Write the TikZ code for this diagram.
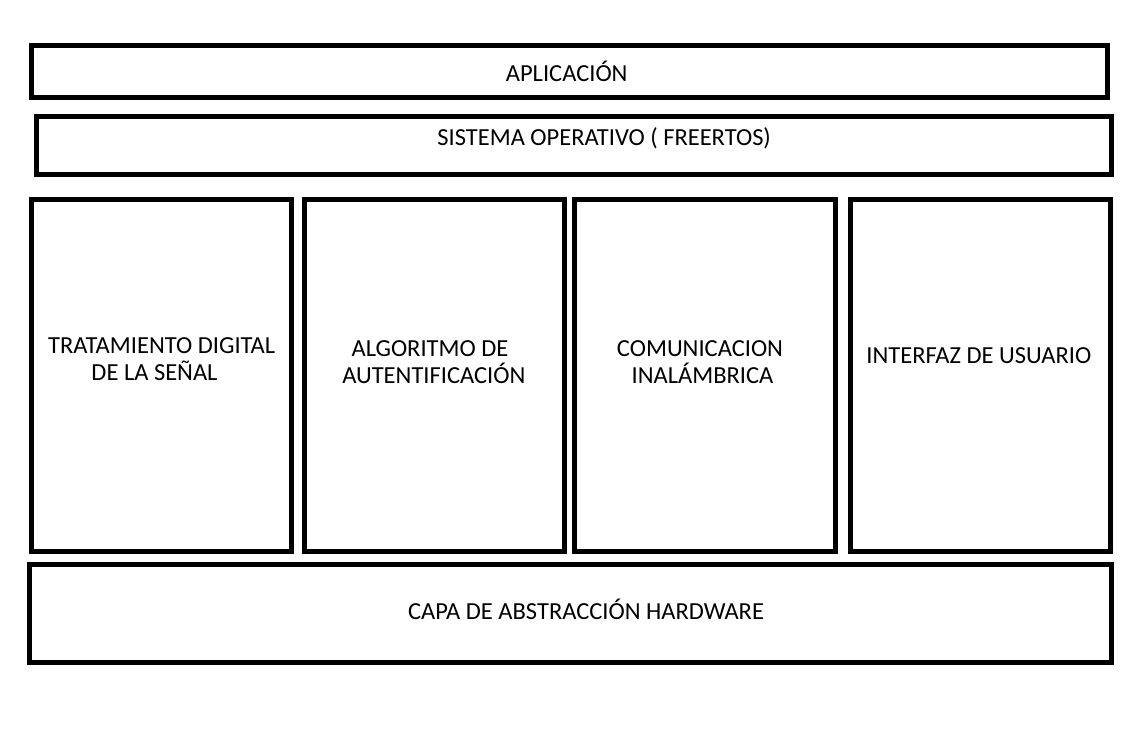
\documentclass[tikz,border=0pt]{standalone}
\usepackage{fontspec}
\setmainfont{Carlito}
\begin{document}
\begin{tikzpicture}[x=1pt,y=-1pt,
  layer/.style={draw=black,line width=5pt,inner sep=0pt,outer sep=0pt,fill=white},
  lbl/.style={font=\fontsize{24.5}{29}\selectfont,inner sep=0pt,anchor=base}]
\useasboundingbox[fill=white] (0,0) rectangle (1139,750);
% boxes (centre-line geometry)
\node[layer,minimum width=1075.8pt,minimum height=52pt] (app) at (569.4,71.5) {};
\node[layer,minimum width=1075pt,minimum height=57.7pt] (os) at (574,145.35) {};
\node[layer,minimum width=260pt,minimum height=352.3pt] (dsp) at (161.5,375.35) {};
\node[layer,minimum width=260pt,minimum height=352.3pt] (auth) at (434.5,375.35) {};
\node[layer,minimum width=261pt,minimum height=352.3pt] (com) at (705,375.35) {};
\node[layer,minimum width=260pt,minimum height=352.3pt] (ui) at (980.5,375.35) {};
\node[layer,minimum width=1082pt,minimum height=98pt] (hal) at (570.5,613.5) {};
% labels
\node[lbl] (tapp) at (566.7,81) {APLICACIÓN};
\node[lbl] (tos) at (604.2,145.7) {SISTEMA OPERATIVO ( FREERTOS)};
\node[lbl] (tdsp1) at (161.7,353.3) {TRATAMIENTO DIGITAL};
\node[lbl] (tdsp2) at (154.5,380.5) {DE LA SEÑAL};
\node[lbl] (tauth1) at (430,356.7) {ALGORITMO DE};
\node[lbl] (tauth2) at (433.8,383.5) {AUTENTIFICACIÓN};
\node[lbl] (tcom1) at (700,356.7) {COMUNICACION};
\node[lbl] (tcom2) at (702.5,383.5) {INALÁMBRICA};
\node[lbl] (tui) at (978.8,363.3) {INTERFAZ DE USUARIO};
\node[lbl] (thal) at (586,619) {CAPA DE ABSTRACCIÓN HARDWARE};
\end{tikzpicture}
\end{document}
